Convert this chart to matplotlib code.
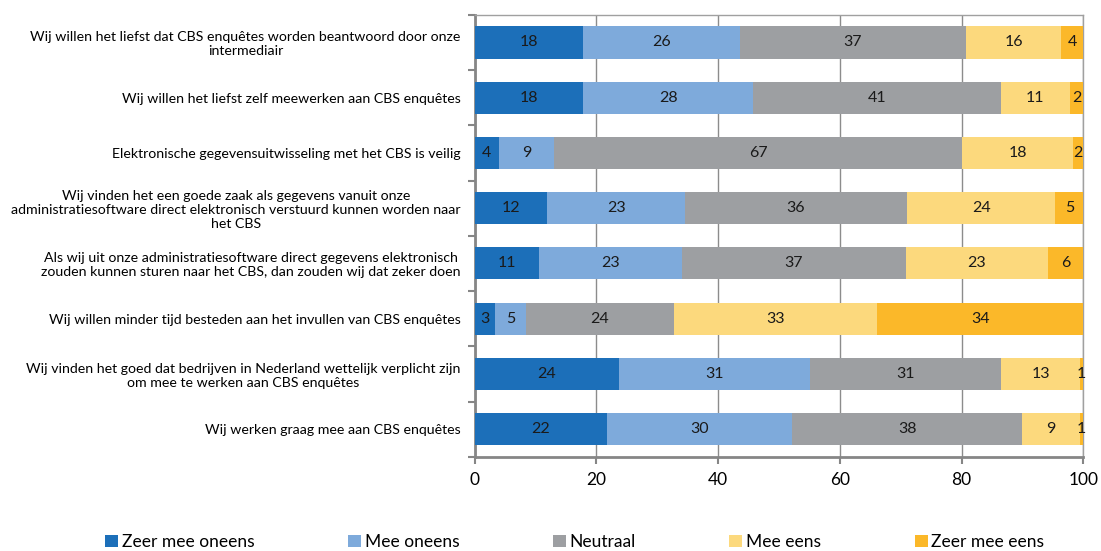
import numpy as np
import matplotlib
matplotlib.use('Agg')
import matplotlib.pyplot as plt

plt.rcParams['font.family'] = ['Lato', 'DejaVu Sans']

categories = [
    'Wij willen het liefst dat CBS enquêtes worden beantwoord door onze\nintermediair',
    'Wij willen het liefst zelf meewerken aan CBS enquêtes',
    'Elektronische gegevensuitwisseling met het CBS is veilig',
    'Wij vinden het een goede zaak als gegevens vanuit onze\nadministratiesoftware direct elektronisch verstuurd kunnen worden naar\nhet CBS',
    'Als wij uit onze administratiesoftware direct gegevens elektronisch\nzouden kunnen sturen naar het CBS, dan zouden wij dat zeker doen',
    'Wij willen minder tijd besteden aan het invullen van CBS enquêtes',
    'Wij vinden het goed dat bedrijven in Nederland wettelijk verplicht zijn\nom mee te werken aan CBS enquêtes',
    'Wij werken graag mee aan CBS enquêtes',
]

series_names = ['Zeer mee oneens', 'Mee oneens', 'Neutraal', 'Mee eens', 'Zeer mee eens']

zeer_mee_oneens = [17.8, 17.8, 4.0, 11.9, 10.6, 3.4, 23.7, 21.8]
mee_oneens      = [25.8, 28.0, 9.1, 22.7, 23.4, 5.0, 31.4, 30.4]
neutraal        = [37.1, 40.6, 67.0, 36.4, 36.8, 24.3, 31.4, 37.8]
mee_eens        = [15.7, 11.4, 18.2, 24.4, 23.4, 33.4, 12.9, 9.4]
zeer_mee_eens   = [3.6, 2.2, 1.7, 4.6, 5.8, 33.9, 0.6, 0.6]

colors = ['#1c6fb9', '#7eaadb', '#9d9fa2', '#fcd97d', '#fbb829']

data = [zeer_mee_oneens, mee_oneens, neutraal, mee_eens, zeer_mee_eens]

fig = plt.figure(figsize=(11.01, 5.51), dpi=100)
# plot area: x 474..1084 px, y 15..457 px
ax = fig.add_axes([0.431, 0.171, 0.553, 0.802])

y = np.arange(len(categories))
left = np.zeros(len(categories))
for name, vals, c in zip(series_names, data, colors):
    vals = np.array(vals)
    bars = ax.barh(y, vals, left=left, height=0.58, color=c, label=name, zorder=3)
    ax.bar_label(bars, labels=['%.0f' % v for v in vals], label_type='center',
                 fontsize=11.5, color='#1a1a1a')
    left += vals

ax.set_xlim(0, 100)
ax.set_ylim(len(categories) - 0.5, -0.5)
ax.set_xticks([0, 20, 40, 60, 80, 100])
ax.set_yticks(y)
ax.set_yticklabels(categories, fontsize=10.2, multialignment='center', linespacing=1.2)
ax.set_yticks(np.arange(-0.5, len(categories) + 0.5, 1), minor=True)
ax.tick_params(axis='y', which='major', length=0, pad=10)
ax.tick_params(axis='y', which='minor', length=5, color='#868686', width=1.5)
ax.tick_params(axis='x', which='major', length=5, color='#868686', width=1.5,
               labelsize=12.5, pad=6)
ax.grid(axis='x', color='#8c8c8c', linewidth=1, zorder=0)
for s in ['left', 'bottom']:
    ax.spines[s].set_color('#868686')
    ax.spines[s].set_linewidth(2)
for s in ['top', 'right']:
    ax.spines[s].set_color('#a0a0a0')
    ax.spines[s].set_linewidth(1)

fig.legend(loc='center', bbox_to_anchor=(0.522, 0.016), ncol=5, frameon=False,
           fontsize=12.5, handlelength=0.75, handleheight=0.75, handletextpad=0.2,
           columnspacing=5.4, borderaxespad=0)

fig.savefig('out.png', dpi=100)
